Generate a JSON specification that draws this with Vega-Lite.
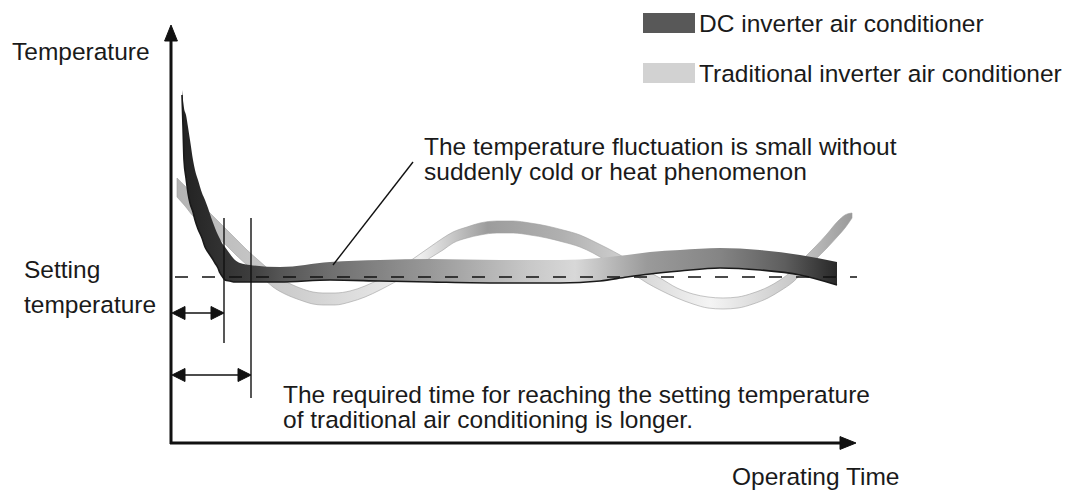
{
  "$schema": "https://vega.github.io/schema/vega-lite/v6.json",
  "width": 1066,
  "height": 491,
  "autosize": "none",
  "padding": 0,
  "background": "white",
  "view": {"stroke": null},
  "datasets": {
    "dc": [
      {"t": 11, "T": 353, "T2": 348}, {"t": 12, "T": 343, "T2": 316}, {"t": 13, "T": 335, "T2": 283},
      {"t": 15, "T": 328, "T2": 265}, {"t": 17, "T": 316, "T2": 250}, {"t": 19, "T": 303, "T2": 240},
      {"t": 22, "T": 283, "T2": 231}, {"t": 24, "T": 273, "T2": 223}, {"t": 27, "T": 263, "T2": 214},
      {"t": 31, "T": 250, "T2": 205}, {"t": 34, "T": 243, "T2": 196}, {"t": 37, "T": 235, "T2": 191},
      {"t": 41, "T": 223, "T2": 185}, {"t": 44, "T": 215, "T2": 180}, {"t": 47, "T": 208, "T2": 175},
      {"t": 49, "T": 204, "T2": 170}, {"t": 51, "T": 200, "T2": 167}, {"t": 54, "T": 196, "T2": 163},
      {"t": 59, "T": 189, "T2": 162}, {"t": 64, "T": 183, "T2": 161}, {"t": 69, "T": 180, "T2": 161},
      {"t": 79, "T": 178, "T2": 161}, {"t": 109, "T": 176, "T2": 161}, {"t": 159, "T": 181, "T2": 163},
      {"t": 209, "T": 183, "T2": 162}, {"t": 259, "T": 184, "T2": 161}, {"t": 329, "T": 183, "T2": 160},
      {"t": 389, "T": 183, "T2": 160}, {"t": 429, "T": 185, "T2": 162}, {"t": 456, "T": 188, "T2": 166},
      {"t": 479, "T": 191, "T2": 169}, {"t": 509, "T": 193, "T2": 172}, {"t": 549, "T": 195, "T2": 175},
      {"t": 589, "T": 193, "T2": 173}, {"t": 629, "T": 188, "T2": 168}, {"t": 666, "T": 181, "T2": 158}
    ],
    "trad": [
      {"t": 6, "T": 265, "T2": 246}, {"t": 14, "T": 257, "T2": 237}, {"t": 22, "T": 248, "T2": 227},
      {"t": 29, "T": 240, "T2": 221}, {"t": 36, "T": 233, "T2": 214}, {"t": 46, "T": 223, "T2": 206},
      {"t": 56, "T": 213, "T2": 197}, {"t": 66, "T": 203, "T2": 187}, {"t": 76, "T": 193, "T2": 178},
      {"t": 86, "T": 184, "T2": 170}, {"t": 94, "T": 177, "T2": 163}, {"t": 102, "T": 170, "T2": 156},
      {"t": 114, "T": 162, "T2": 149}, {"t": 129, "T": 155, "T2": 143}, {"t": 142, "T": 151, "T2": 139},
      {"t": 152, "T": 150, "T2": 138}, {"t": 164, "T": 150, "T2": 138}, {"t": 179, "T": 152, "T2": 141},
      {"t": 194, "T": 157, "T2": 146}, {"t": 209, "T": 164, "T2": 153}, {"t": 224, "T": 172, "T2": 161},
      {"t": 239, "T": 182, "T2": 170}, {"t": 249, "T": 189, "T2": 178}, {"t": 259, "T": 196, "T2": 185},
      {"t": 272, "T": 205, "T2": 193}, {"t": 282, "T": 211, "T2": 200}, {"t": 296, "T": 216, "T2": 205},
      {"t": 309, "T": 220, "T2": 208}, {"t": 326, "T": 222, "T2": 210}, {"t": 342, "T": 222, "T2": 210},
      {"t": 359, "T": 220, "T2": 208}, {"t": 376, "T": 217, "T2": 205}, {"t": 392, "T": 213, "T2": 201},
      {"t": 409, "T": 208, "T2": 196}, {"t": 422, "T": 202, "T2": 190}, {"t": 436, "T": 195, "T2": 182},
      {"t": 449, "T": 188, "T2": 176}, {"t": 462, "T": 180, "T2": 169}, {"t": 476, "T": 172, "T2": 160},
      {"t": 489, "T": 165, "T2": 153}, {"t": 506, "T": 155, "T2": 145}, {"t": 522, "T": 149, "T2": 139},
      {"t": 537, "T": 146, "T2": 135}, {"t": 552, "T": 145, "T2": 134}, {"t": 567, "T": 146, "T2": 135},
      {"t": 582, "T": 150, "T2": 139}, {"t": 597, "T": 156, "T2": 145}, {"t": 609, "T": 163, "T2": 152},
      {"t": 622, "T": 173, "T2": 161}, {"t": 634, "T": 186, "T2": 173}, {"t": 644, "T": 196, "T2": 183},
      {"t": 656, "T": 209, "T2": 195}, {"t": 667, "T": 222, "T2": 207}, {"t": 674, "T": 228, "T2": 215},
      {"t": 681, "T": 230, "T2": 225}
    ],
    "guides": [
      {"t": 53, "T": 225, "t2": 53, "T2": 100},
      {"t": 80, "T": 225, "t2": 80, "T2": 45},
      {"t": 3, "T": 130, "t2": 48, "T2": 130},
      {"t": 3, "T": 68, "t2": 75, "T2": 68},
      {"t": 242, "T": 281, "t2": 162, "T2": 178}
    ],
    "axes": [
      {"t": 0, "T": -1, "t2": 0, "T2": 405},
      {"t": -1, "T": 0, "t2": 672, "T2": 0}
    ],
    "setting": [
      {"t": 4, "T": 166, "t2": 686, "T2": 166}
    ],
    "heads": [
      {"t": 1, "T": 130, "dir": "left"},
      {"t": 53, "T": 130, "dir": "right"},
      {"t": 1, "T": 68, "dir": "left"},
      {"t": 80, "T": 68, "dir": "right"}
    ],
    "axisheads": [
      {"t": 0, "T": 418, "dir": "axis-up"},
      {"t": 685, "T": 0, "dir": "axis-right"}
    ],
    "legend": [
      {"series": "DC inverter air conditioner", "t": 472, "t2": 524, "T": 430, "T2": 410},
      {"series": "Traditional inverter air conditioner", "t": 472, "t2": 524, "T": 380, "T2": 360}
    ],
    "labels": [
      {"label": "Temperature", "t": -159, "T": 383},
      {"label": "Setting", "t": -147, "T": 165},
      {"label": "temperature", "t": -147, "T": 130},
      {"label": "Operating Time", "t": 561, "T": -42},
      {"label": "The temperature fluctuation is small without", "t": 253, "T": 288},
      {"label": "suddenly cold or heat phenomenon", "t": 253, "T": 263},
      {"label": "The required time for reaching the setting temperature", "t": 112, "T": 40},
      {"label": "of traditional air conditioning is longer.", "t": 112, "T": 15}
    ]
  },
  "encoding": {
    "x": {"field": "t", "type": "quantitative", "scale": {"domain": [-171, 895], "nice": false, "zero": false}, "axis": null},
    "y": {"field": "T", "type": "quantitative", "scale": {"domain": [-48, 443], "nice": false, "zero": false}, "axis": null}
  },
  "layer": [
    {
      "data": {"name": "trad"},
      "mark": {
        "type": "area",
        "interpolate": "monotone",
        "stroke": "#a0a0a0",
        "strokeWidth": 0.6,
        "fill": {
          "gradient": "linear", "x1": 0, "x2": 1, "y1": 0, "y2": 0,
          "stops": [
            {"offset": 0, "color": "#b4b4b4"},
            {"offset": 0.18, "color": "#cfcfcf"},
            {"offset": 0.36, "color": "#efefef"},
            {"offset": 0.46, "color": "#9c9c9c"},
            {"offset": 0.57, "color": "#b0b0b0"},
            {"offset": 0.69, "color": "#d8d8d8"},
            {"offset": 0.79, "color": "#f4f4f4"},
            {"offset": 0.92, "color": "#c6c6c6"},
            {"offset": 1, "color": "#9a9a9a"}
          ]
        }
      },
      "encoding": {"y2": {"field": "T2"}}
    },
    {
      "data": {"name": "dc"},
      "mark": {
        "type": "area",
        "interpolate": "monotone",
        "fill": {
          "gradient": "linear", "x1": 0, "x2": 1, "y1": 0, "y2": 0,
          "stops": [
            {"offset": 0, "color": "#222222"},
            {"offset": 0.1, "color": "#3c3c3c"},
            {"offset": 0.15, "color": "#555555"},
            {"offset": 0.23, "color": "#707070"},
            {"offset": 0.38, "color": "#999999"},
            {"offset": 0.53, "color": "#c8c8c8"},
            {"offset": 0.6, "color": "#d8d8d8"},
            {"offset": 0.71, "color": "#9a9a9a"},
            {"offset": 0.82, "color": "#858585"},
            {"offset": 0.92, "color": "#5e5e5e"},
            {"offset": 1, "color": "#282828"}
          ]
        }
      },
      "encoding": {"y2": {"field": "T2"}}
    },
    {
      "data": {"name": "dc"},
      "mark": {"type": "line", "interpolate": "monotone", "stroke": "#1a1a1a", "strokeWidth": 1.6},
      "encoding": {"y": {"field": "T2", "type": "quantitative", "scale": {"domain": [-48, 443], "nice": false, "zero": false}, "axis": null}}
    },
    {
      "data": {"name": "setting"},
      "mark": {"type": "rule", "stroke": "#111111", "strokeWidth": 1.5, "strokeDash": [13, 14]},
      "encoding": {"x2": {"field": "t2"}, "y2": {"field": "T2"}}
    },
    {
      "data": {"name": "guides"},
      "mark": {"type": "rule", "stroke": "#111111", "strokeWidth": 1.4},
      "encoding": {"x2": {"field": "t2"}, "y2": {"field": "T2"}}
    },
    {
      "data": {"name": "axes"},
      "mark": {"type": "rule", "stroke": "#111111", "strokeWidth": 3},
      "encoding": {"x2": {"field": "t2"}, "y2": {"field": "T2"}}
    },
    {
      "data": {"name": "heads"},
      "mark": {"type": "point", "filled": true, "size": 676, "fill": "#111111", "fillOpacity": 1, "stroke": "#111111", "strokeWidth": 1, "opacity": 1},
      "encoding": {
        "shape": {"field": "dir", "type": "nominal", "legend": null,
          "scale": {"domain": ["left", "right", "axis-up", "axis-right"],
            "range": ["M0,0L1,-0.5L1,0.5Z", "M0,0L-1,-0.5L-1,0.5Z", "M0,0L-0.4,1L0.4,1Z", "M0,0L-1,-0.4L-1,0.4Z"]}}
      }
    },
    {
      "data": {"name": "axisheads"},
      "mark": {"type": "point", "filled": true, "size": 1024, "fill": "#111111", "fillOpacity": 1, "stroke": "#111111", "strokeWidth": 1, "opacity": 1},
      "encoding": {
        "shape": {"field": "dir", "type": "nominal", "legend": null,
          "scale": {"domain": ["left", "right", "axis-up", "axis-right"],
            "range": ["M0,0L1,-0.5L1,0.5Z", "M0,0L-1,-0.5L-1,0.5Z", "M0,0L-0.4,1L0.4,1Z", "M0,0L-1,-0.4L-1,0.4Z"]}}
      }
    },
    {
      "data": {"name": "legend"},
      "mark": {"type": "rect"},
      "encoding": {
        "x2": {"field": "t2"},
        "y2": {"field": "T2"},
        "color": {"field": "series", "type": "nominal", "legend": null,
          "scale": {"domain": ["DC inverter air conditioner", "Traditional inverter air conditioner"], "range": ["#585858", "#d2d2d2"]}}
      }
    },
    {
      "data": {"name": "legend"},
      "mark": {"type": "text", "align": "left", "baseline": "alphabetic", "dx": 4, "dy": -1, "font": "Liberation Sans", "fontSize": 24.5, "color": "#1a1a1a"},
      "encoding": {
        "x": {"field": "t2", "type": "quantitative", "scale": {"domain": [-171, 895], "nice": false, "zero": false}, "axis": null},
        "y": {"field": "T2", "type": "quantitative", "scale": {"domain": [-48, 443], "nice": false, "zero": false}, "axis": null},
        "text": {"field": "series"}
      }
    },
    {
      "data": {"name": "labels"},
      "mark": {"type": "text", "align": "left", "baseline": "alphabetic", "font": "Liberation Sans", "fontSize": 24.5, "color": "#1a1a1a"},
      "encoding": {"text": {"field": "label"}}
    }
  ]
}
